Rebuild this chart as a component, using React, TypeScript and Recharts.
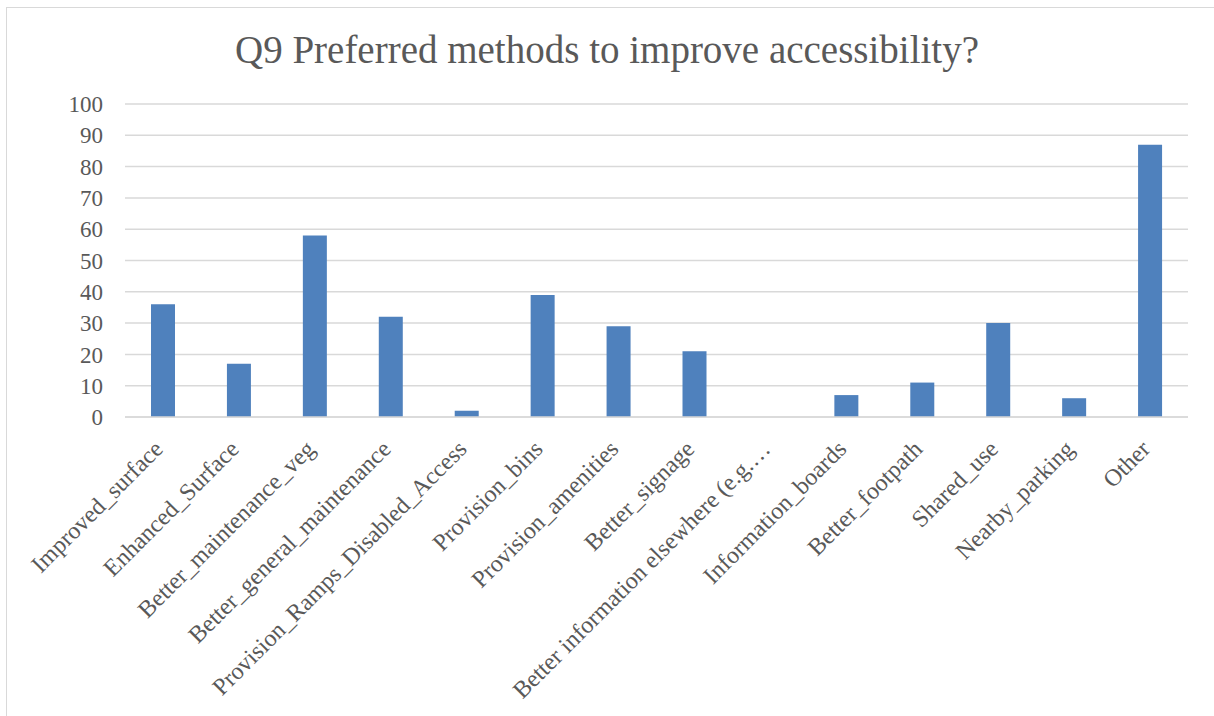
import { Bar, BarChart, CartesianGrid, XAxis, YAxis } from "recharts";

const categories = [
  "Improved_surface",
  "Enhanced_Surface",
  "Better_maintenance_veg",
  "Better_general_maintenance",
  "Provision_Ramps_Disabled_Access",
  "Provision_bins",
  "Provision_amenities",
  "Better_signage",
  "Better information elsewhere (e.g.…",
  "Information_boards",
  "Better_footpath",
  "Shared_use",
  "Nearby_parking",
  "Other",
];

const responses = [36, 17, 58, 32, 2, 39, 29, 21, 0, 7, 11, 30, 6, 87];

const yTicks = [0, 10, 20, 30, 40, 50, 60, 70, 80, 90, 100];

const data = categories.map((name, i) => ({ name, count: responses[i] }));

const FONT = "'Liberation Serif', 'DejaVu Serif', serif";
const TEXT = "#595959";

// category labels slanted at 45°, ending just right of each bar's centre
function SlantTick(props: any) {
  const { x, y, payload } = props;
  return (
    <g transform={`translate(${x},${y})`}>
      <text
        x={0}
        y={0}
        dx={-17}
        dy={19}
        textAnchor="end"
        transform="rotate(-45)"
        fontFamily={FONT}
        fontSize={24}
        fill={TEXT}
      >
        {payload.value}
      </text>
    </g>
  );
}

export default function App() {
  return (
    <div
      style={{
        position: "absolute",
        left: 0,
        top: 0,
        width: 1214,
        height: 716,
        background: "#fff",
        overflow: "hidden",
      }}
    >
      <div
        style={{
          position: "absolute",
          left: 6,
          top: 7,
          width: 1300,
          height: 800,
          borderLeft: "1.5px solid #d9d9d9",
          borderTop: "1.5px solid #d9d9d9",
        }}
      />
      <div
        style={{
          position: "absolute",
          left: 0,
          top: 28,
          width: 1214,
          textAlign: "center",
          fontFamily: FONT,
          fontSize: 39,
          color: TEXT,
          lineHeight: "44px",
        }}
      >
        Q9 Preferred methods to improve accessibility?
      </div>
      <div style={{ position: "absolute", left: 0, top: 0 }}>
        <BarChart
          width={1214}
          height={716}
          data={data}
          margin={{ top: 104, right: 26, left: 0, bottom: 10 }}
          barCategoryGap={0}
        >
          <CartesianGrid
            vertical={false}
            stroke="#d9d9d9"
            strokeWidth={1.5}
          />
          <XAxis
            dataKey="name"
            interval={0}
            height={289}
            tick={<SlantTick />}
            tickLine={false}
            axisLine={{ stroke: "#d9d9d9", strokeWidth: 1.5 }}
          />
          <YAxis
            width={125}
            domain={[0, 100]}
            ticks={yTicks}
            interval={0}
            tickLine={false}
            axisLine={false}
            tickMargin={16}
            tick={{ fontFamily: FONT, fontSize: 23, fill: TEXT }}
          />
          <Bar
            dataKey="count"
            fill="#4f81bd"
            barSize={24}
            isAnimationActive={false}
          />
        </BarChart>
      </div>
    </div>
  );
}
